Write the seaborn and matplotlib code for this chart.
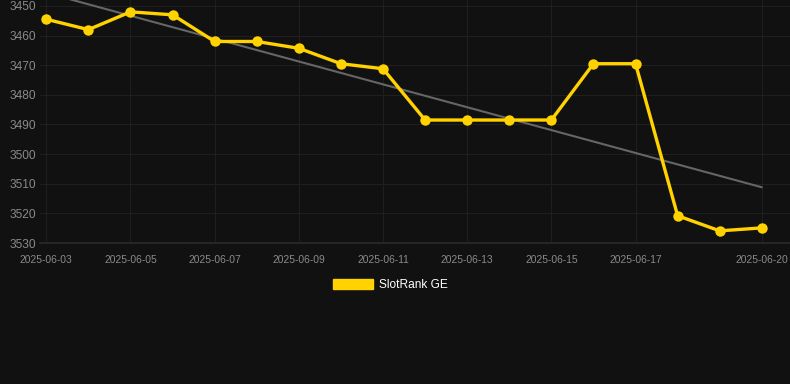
"""SlotRank GE daily rank chart (dark theme)."""

import matplotlib

matplotlib.use("Agg")
import matplotlib.pyplot as plt
import matplotlib.patches as mpatches
import numpy as np
import pandas as pd
import seaborn as sns

dates = pd.date_range("2025-06-03", "2025-06-20", freq="D")
ranks = [3454.5, 3458, 3452, 3453, 3462, 3462, 3464.3, 3469.5, 3471.2,
         3488.5, 3488.5, 3488.5, 3488.5, 3469.5, 3469.5, 3520.8, 3525.9, 3524.9]
tick_dates = ["2025-06-03", "2025-06-05", "2025-06-07", "2025-06-09", "2025-06-11",
              "2025-06-13", "2025-06-15", "2025-06-17", "2025-06-20"]
y_ticks = [3450, 3460, 3470, 3480, 3490, 3500, 3510, 3520, 3530]
series_name = "SlotRank GE"

BG = "#111111"
GOLD = "#FFD200"
GRID = "#1f1f1f"
TXT = "#8a8a8a"

df = pd.DataFrame({"date": dates, "rank": ranks})
df["day"] = (df["date"] - df["date"].iloc[0]).dt.days

# linear trend through the ranks
coef = np.polyfit(df["day"], df["rank"], 1)
df["trend"] = np.polyval(coef, df["day"])

sns.set_theme(style="dark")
plt.rcParams["font.family"] = ["Liberation Sans", "DejaVu Sans"]

fig = plt.figure(figsize=(7.9, 3.84), dpi=100, facecolor=BG)
ax = fig.add_axes([40 / 790, 1 - 243 / 384, 750 / 790, 243 / 384])
ax.set_facecolor(BG)

ax.plot(df["day"], df["trend"], color="#666666", lw=1.5, zorder=2)
sns.lineplot(data=df, x="day", y="rank", ax=ax, color=GOLD, lw=2.4,
             marker="o", markersize=7.5, markeredgewidth=0, zorder=3)

ax.set_ylim(3530, 3448)
ax.set_xlim(-0.15, 17.67)
ax.set_yticks(y_ticks)
ax.set_yticklabels([str(v) for v in y_ticks], color=TXT, fontsize=8.6)
tick_days = [(pd.Timestamp(d) - dates[0]).days for d in tick_dates]
ax.set_xticks(tick_days)
ax.set_xticklabels(tick_dates, color=TXT, fontsize=7.4)
ax.tick_params(axis="y", length=0, pad=3)
ax.tick_params(axis="x", length=0, pad=8.5)
ax.grid(True, color=GRID, lw=0.8)
ax.set_xlabel("")
ax.set_ylabel("")
for side in ["top", "right", "left"]:
    ax.spines[side].set_visible(False)
ax.spines["bottom"].set_color("#2a2a2a")

handle = mpatches.Patch(color=GOLD, label=series_name)
fig.legend(handles=[handle], loc="center", bbox_to_anchor=(0.5 - 4.5 / 790, 1 - 285 / 384),
           frameon=False, fontsize=8.6, labelcolor="white",
           handlelength=3.3, handleheight=0.9, handletextpad=0.5)

fig.savefig("out.png", dpi=100, facecolor=BG)
plt.close(fig)
